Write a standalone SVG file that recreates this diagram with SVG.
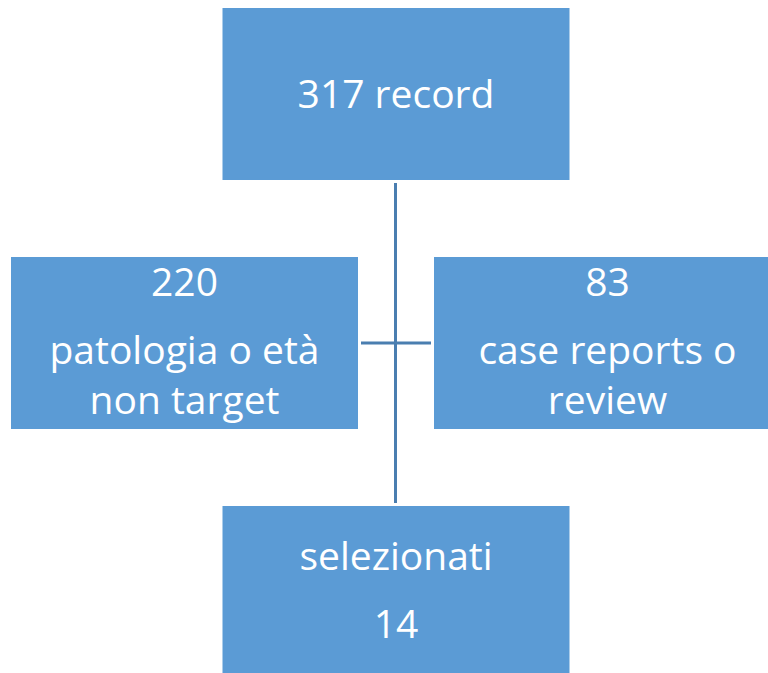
<svg xmlns="http://www.w3.org/2000/svg" width="768" height="673" viewBox="0 0 768 673">
<style>
.box{fill:#5B9BD5}
.t{font-family:"Open Sans","Liberation Sans",sans-serif;font-size:39px;fill:#FFFFFF;text-anchor:middle}
.c{stroke:#4A7EB0;stroke-width:3;fill:none}
</style>
<rect width="768" height="673" fill="#FFFFFF"/>
<g id="connectors">
<line class="c" x1="395.5" y1="183" x2="395.5" y2="503"/>
<line class="c" x1="361" y1="343" x2="431" y2="343"/>
</g>
<g id="n-top">
<rect class="box" x="222.5" y="8" width="347" height="172"/>
<text class="t" x="396" y="108">317 record</text>
</g>
<g id="n-left">
<rect class="box" x="11" y="257" width="347" height="172"/>
<text class="t" x="184.5" y="296">220</text>
<text class="t" x="184.5" y="364">patologia o età</text>
<text class="t" x="184.5" y="414">non target</text>
</g>
<g id="n-right">
<rect class="box" x="434" y="257" width="347" height="172"/>
<text class="t" x="607.5" y="296">83</text>
<text class="t" x="607.5" y="364">case reports o</text>
<text class="t" x="607.5" y="414">review</text>
</g>
<g id="n-bottom">
<rect class="box" x="222.5" y="506" width="347" height="172"/>
<text class="t" x="396" y="570">selezionati</text>
<text class="t" x="396" y="638">14</text>
</g>
</svg>
